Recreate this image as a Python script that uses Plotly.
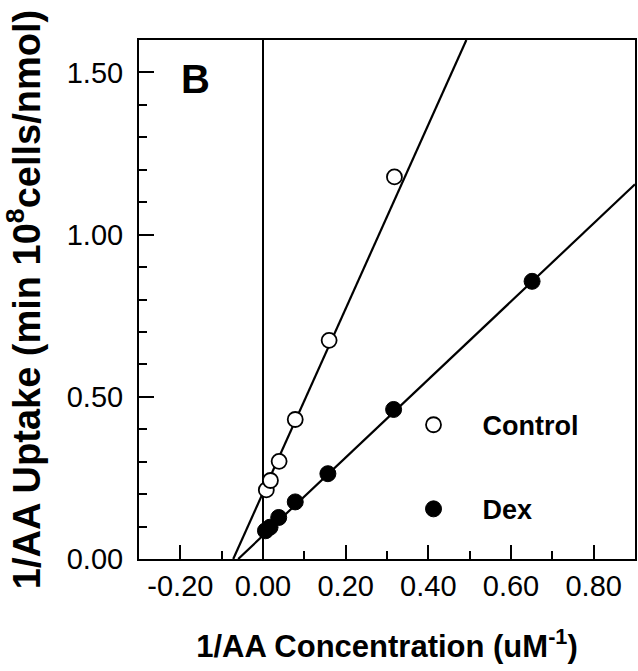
import plotly.graph_objects as go

# ---- data ----
ctrl_x = [0.008, 0.018, 0.039, 0.078, 0.160, 0.318]
ctrl_y = [0.213, 0.242, 0.301, 0.430, 0.674, 1.178]
dex_x = [0.006, 0.017, 0.038, 0.078, 0.157, 0.316, 0.651]
dex_y = [0.087, 0.098, 0.128, 0.176, 0.263, 0.461, 0.856]

# fitted (Lineweaver-Burk) lines, end points
ctrl_fit_x = [-0.072, 0.492]
ctrl_fit_y = [0.0, 1.60]
dex_fit_x = [-0.060, 0.90]
dex_fit_y = [0.0, 1.155]

x_tickvals = [-0.2, 0.0, 0.2, 0.4, 0.6, 0.8]
x_ticktext = ["-0.20", "0.00", "0.20", "0.40", "0.60", "0.80"]
y_tickvals = [0.0, 0.5, 1.0, 1.5]
y_ticktext = ["0.00", "0.50", "1.00", "1.50"]

FONT = "Liberation Sans, Arial, Helvetica, sans-serif"

fig = go.Figure()
fig.add_trace(go.Scatter(x=ctrl_fit_x, y=ctrl_fit_y, mode="lines",
                         line=dict(color="black", width=2.2), showlegend=False, hoverinfo="skip"))
fig.add_trace(go.Scatter(x=dex_fit_x, y=dex_fit_y, mode="lines",
                         line=dict(color="black", width=2.2), showlegend=False, hoverinfo="skip"))
fig.add_trace(go.Scatter(x=ctrl_x, y=ctrl_y, mode="markers", name="Control",
                         legendgroup="c",
                         marker=dict(symbol="circle", size=15, color="white",
                                     line=dict(color="black", width=1.8))))
fig.add_trace(go.Scatter(x=dex_x, y=dex_y, mode="markers", name="Dex",
                         legendgroup="d",
                         marker=dict(symbol="circle", size=16, color="black",
                                     line=dict(color="black", width=1))))

fig.add_annotation(x=-0.164, y=1.48, xref="x", yref="y", text="<b>B</b>",
                   showarrow=False, font=dict(family=FONT, size=40, color="black"))

fig.update_layout(
    template="none",
    width=638, height=671,
    margin=dict(l=139, r=3, t=40, b=112),
    paper_bgcolor="white", plot_bgcolor="white",
    font=dict(family=FONT, color="black"),
    showlegend=True,
    legend=dict(x=0.495, y=0.305, xanchor="left", yanchor="top",
                bgcolor="rgba(0,0,0,0)", itemwidth=88, tracegroupgap=46,
                font=dict(family=FONT, size=27, color="black", weight="bold")),
    xaxis=dict(range=[-0.3, 0.9], automargin=False, showline=True, linecolor="black", linewidth=2,
               mirror=True, ticks="inside", ticklen=14, tickwidth=1.5, tickcolor="black",
               tickvals=x_tickvals, ticktext=x_ticktext,
               tickfont=dict(family=FONT, size=29, color="black"),
               minor=dict(ticks="inside", ticklen=8, tickwidth=1.5, tickcolor="black", dtick=0.1,
                          tick0=0, showgrid=False),
               showgrid=False, zeroline=True, zerolinecolor="black", zerolinewidth=1.5,
               title=dict(text="<b>1/AA Concentration (uM<sup>-1</sup>)</b>", standoff=35,
                          font=dict(family=FONT, size=31, color="black"))),
    yaxis=dict(range=[0, 1.6], automargin=False, showline=True, linecolor="black", linewidth=2,
               mirror=True, ticks="inside", ticklen=15, tickwidth=1.5, tickcolor="black",
               tickvals=y_tickvals, ticktext=y_ticktext, ticklabelstandoff=8,
               tickfont=dict(family=FONT, size=29, color="black"),
               minor=dict(ticks="inside", ticklen=8, tickwidth=1.5, tickcolor="black", dtick=0.1,
                          tick0=0, showgrid=False),
               showgrid=False, zeroline=False,
               title=dict(text="<b>1/AA Uptake (min 10<sup>8</sup>cells/nmol)</b>", standoff=14,
                          font=dict(family=FONT, size=38, color="black"))),
)

fig.write_html("out.html", config={"displayModeBar": False},
               post_script="document.body.style.margin='0';")
